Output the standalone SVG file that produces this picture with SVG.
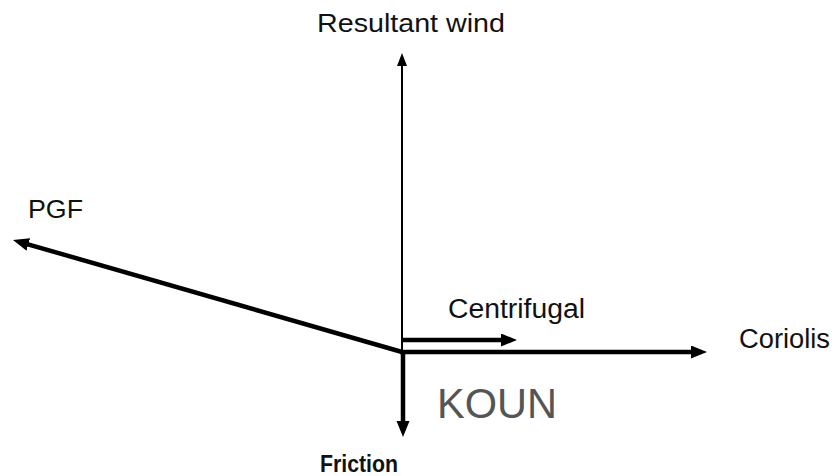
<svg xmlns="http://www.w3.org/2000/svg" width="836" height="476" viewBox="0 0 836 476">
<style>
.lbl{font-family:"Liberation Sans",Arial,sans-serif;fill:#111}
.thick{stroke:#000;stroke-width:4.5;fill:none}
.thin{stroke:#000;stroke-width:2;fill:none}
</style>
<defs>
<marker id="ah" markerUnits="userSpaceOnUse" markerWidth="17" markerHeight="14" refX="4" refY="6.5" orient="auto">
<path d="M0,0 L16,6.5 L0,13 z" fill="#000"/>
</marker>
<marker id="ahs" markerUnits="userSpaceOnUse" markerWidth="14" markerHeight="11" refX="3" refY="5" orient="auto">
<path d="M0,0 L13,5 L0,10 z" fill="#000"/>
</marker>
</defs>
<rect width="836" height="476" fill="#fff"/>
<g id="connectors">
<line class="thin" x1="402" y1="352" x2="402" y2="63" marker-end="url(#ahs)"/>
<line class="thick" x1="402" y1="352" x2="24.5" y2="243.3" marker-end="url(#ah)"/>
<line class="thick" x1="402" y1="340" x2="505" y2="340" marker-end="url(#ah)"/>
<line class="thick" x1="400" y1="352" x2="695" y2="352" marker-end="url(#ah)"/>
<line class="thick" x1="403" y1="350" x2="403" y2="425" marker-end="url(#ah)"/>
</g>
<g id="resultant"><text class="lbl" x="317" y="32" font-size="26" textLength="188" lengthAdjust="spacingAndGlyphs">Resultant wind</text></g>
<g id="pgf"><text class="lbl" x="28" y="218" font-size="26" textLength="55" lengthAdjust="spacingAndGlyphs">PGF</text></g>
<g id="centrifugal"><text class="lbl" x="448" y="318" font-size="27" textLength="137" lengthAdjust="spacingAndGlyphs">Centrifugal</text></g>
<g id="coriolis"><text class="lbl" x="739" y="348" font-size="27" textLength="91" lengthAdjust="spacingAndGlyphs">Coriolis</text></g>
<g id="friction"><text class="lbl" x="320" y="472" font-size="23" font-weight="bold" textLength="78" lengthAdjust="spacingAndGlyphs">Friction</text></g>
<g id="koun"><text x="437" y="418" font-family="Liberation Sans,Arial,sans-serif" font-size="43" fill="#555" textLength="120" lengthAdjust="spacingAndGlyphs">KOUN</text></g>
</svg>
